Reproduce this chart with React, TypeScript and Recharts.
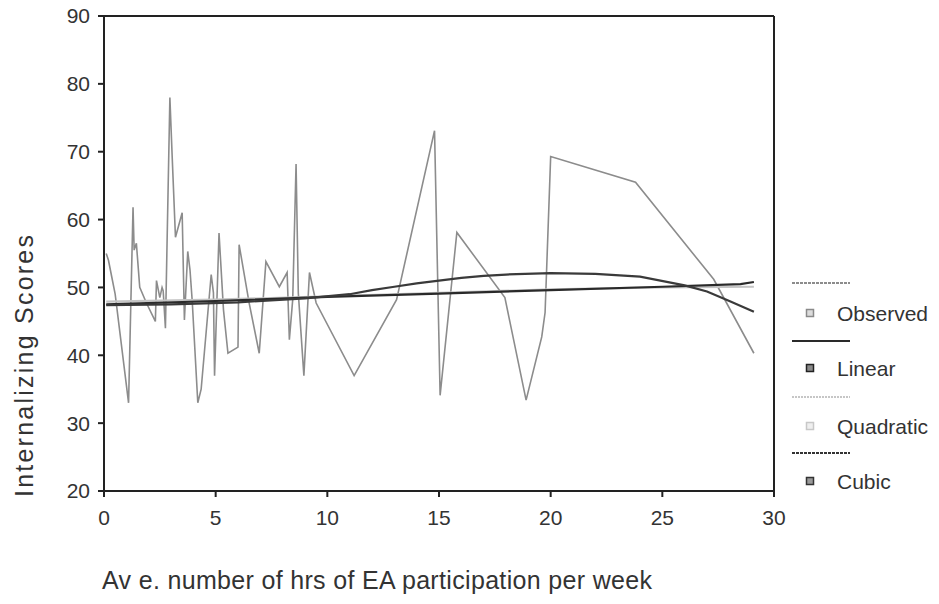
import { LineChart, Line, XAxis, YAxis, ReferenceLine } from "recharts";

const FONT = "'Liberation Sans', Arial, sans-serif";

// Observed internalizing scores by average weekly hours of EA participation
const observedHours = [
  0.1, 0.2, 0.35, 0.5, 1.1, 1.3, 1.35, 1.45, 1.6, 1.9, 2.3, 2.35, 2.5, 2.6, 2.65, 2.75,
  2.95, 3.05, 3.2, 3.5, 3.6, 3.75, 3.85, 3.95, 4.2, 4.35, 4.8, 4.9, 4.95, 5.15, 5.35, 5.55,
  6.0, 6.05, 6.5, 6.95, 7.25, 7.85, 8.2, 8.3, 8.45, 8.6, 8.7, 8.95, 9.2, 9.5, 11.2, 13.1,
  14.8, 15.05, 15.8, 17.95, 18.9, 19.6, 19.75, 20.0, 23.8, 27.3, 29.1,
];
const observedScores = [
  55, 54, 51.5, 49, 33, 61.8, 55.5, 56.5, 50, 47.7, 45, 51, 48.5, 50, 49.5, 44,
  78, 69.5, 57.4, 61, 45.2, 55.3, 52.6, 48, 33, 35, 51.9, 49.2, 37, 58, 46.7, 40.3,
  41.2, 56.3, 47.7, 40.3, 53.8, 50.1, 52.2, 42.3, 48.2, 68.2, 49.2, 37, 52.2, 47.7, 37, 48.2,
  73.1, 34.1, 58.1, 48.5, 33.4, 42.7, 46.3, 69.3, 65.5, 51.2, 40.3,
];

// fitted curves, read at a handful of hours
const linearHours = [0.1, 5, 10, 15, 20, 25, 28.5, 29.1];
const linearScores = [47.5, 48.0, 48.6, 49.1, 49.6, 50.1, 50.5, 50.8];

const quadraticHours = [0.1, 5, 10, 15, 20, 25, 29.1];
const quadraticScores = [47.9, 48.2, 48.7, 49.2, 49.7, 50.0, 50.1];

const cubicHours = [0.1, 3, 6, 9, 11, 12, 13, 14, 15, 16, 17, 18, 20, 22, 24, 26, 27, 28, 29.1];
const cubicScores = [47.4, 47.5, 47.8, 48.4, 49.0, 49.6, 50.1, 50.6, 51.0, 51.4, 51.7, 51.9, 52.1, 52.0, 51.6, 50.3, 49.4, 48.0, 46.4];

const xTicks = [0, 5, 10, 15, 20, 25, 30];
const yTicks = [20, 30, 40, 50, 60, 70, 80, 90];

const toPoints = (xs: number[], ys: number[]) => xs.map((x, i) => ({ x, y: ys[i] }));

const observed = toPoints(observedHours, observedScores);
const linear = toPoints(linearHours, linearScores);
const quadratic = toPoints(quadraticHours, quadraticScores);
const cubic = toPoints(cubicHours, cubicScores);

const legendItems = [
  { name: "Observed", line: "#8c8c8c", dash: "3 1", box: "#8a8a8a", fill: "#dcdcdc", lineY: 13, rowY: 43 },
  { name: "Linear", line: "#2a2a2a", dash: undefined, box: "#222", fill: "#8a8a8a", lineY: 71, rowY: 98 },
  { name: "Quadratic", line: "#c6c6c6", dash: "2 1", box: "#c8c8c8", fill: "#efefef", lineY: 127, rowY: 156 },
  { name: "Cubic", line: "#333", dash: "3 1", box: "#333", fill: "#9a9a9a", lineY: 183, rowY: 211 },
];

const ChartLegend = () => (
  <svg
    width={159}
    height={230}
    style={{ position: "absolute", left: 780, top: 270, fontFamily: FONT }}
  >
    {legendItems.map((it) => (
      <g key={it.name}>
        <line x1={12} x2={70} y1={it.lineY} y2={it.lineY} stroke={it.line} strokeWidth={2} strokeDasharray={it.dash} />
        <rect x={26.5} y={it.rowY - 3.5} width={7} height={7} fill={it.fill} stroke={it.box} strokeWidth={1.5} />
        <text x={57} y={it.rowY} dominantBaseline="central" fontSize={21} fill="#333">
          {it.name}
        </text>
      </g>
    ))}
  </svg>
);

export default function App() {
  return (
    <div style={{ position: "absolute", left: 0, top: 0, width: 939, height: 604, background: "#fff" }}>
      <LineChart width={939} height={604} margin={{ top: 16, right: 165, bottom: 0, left: 0 }}>
        <XAxis
          dataKey="x"
          type="number"
          domain={[0, 30]}
          ticks={xTicks}
          height={113}
          allowDataOverflow
          stroke="#222"
          strokeWidth={2}
          tickSize={6}
          tickMargin={13}
          tick={{ fontSize: 21, fill: "#333", fontFamily: FONT }}
        />
        <YAxis
          dataKey="y"
          type="number"
          domain={[20, 90]}
          ticks={yTicks}
          width={104}
          allowDataOverflow
          stroke="#222"
          strokeWidth={2}
          tickSize={6}
          tickMargin={8}
          tick={{ fontSize: 21, fill: "#333", fontFamily: FONT }}
        />
        <ReferenceLine y={90} stroke="#222" strokeWidth={2} />
        <ReferenceLine x={30} stroke="#222" strokeWidth={2} />
        <Line data={observed} dataKey="y" name="Observed" stroke="#8c8c8c" strokeWidth={1.6} dot={false} isAnimationActive={false} />
        <Line data={quadratic} dataKey="y" name="Quadratic" stroke="#c4c4c4" strokeWidth={2.2} dot={false} isAnimationActive={false} />
        <Line data={linear} dataKey="y" name="Linear" stroke="#2a2a2a" strokeWidth={2.2} dot={false} isAnimationActive={false} />
        <Line data={cubic} dataKey="y" name="Cubic" stroke="#3a3a3a" strokeWidth={2.2} dot={false} isAnimationActive={false} />
      </LineChart>
      <ChartLegend />
      <svg
        width={939}
        height={604}
        style={{ position: "absolute", left: 0, top: 0, pointerEvents: "none", fontFamily: FONT }}
      >
        <text
          x={0}
          y={0}
          transform="translate(33, 497) rotate(-90)"
          fontSize={25}
          fill="#333"
          textLength={262}
          lengthAdjust="spacing"
        >
          Internalizing Scores
        </text>
        <text x={102} y={589} fontSize={25} fill="#333" textLength={550} lengthAdjust="spacing">
          Av e. number of hrs of EA participation per week
        </text>
      </svg>
    </div>
  );
}
